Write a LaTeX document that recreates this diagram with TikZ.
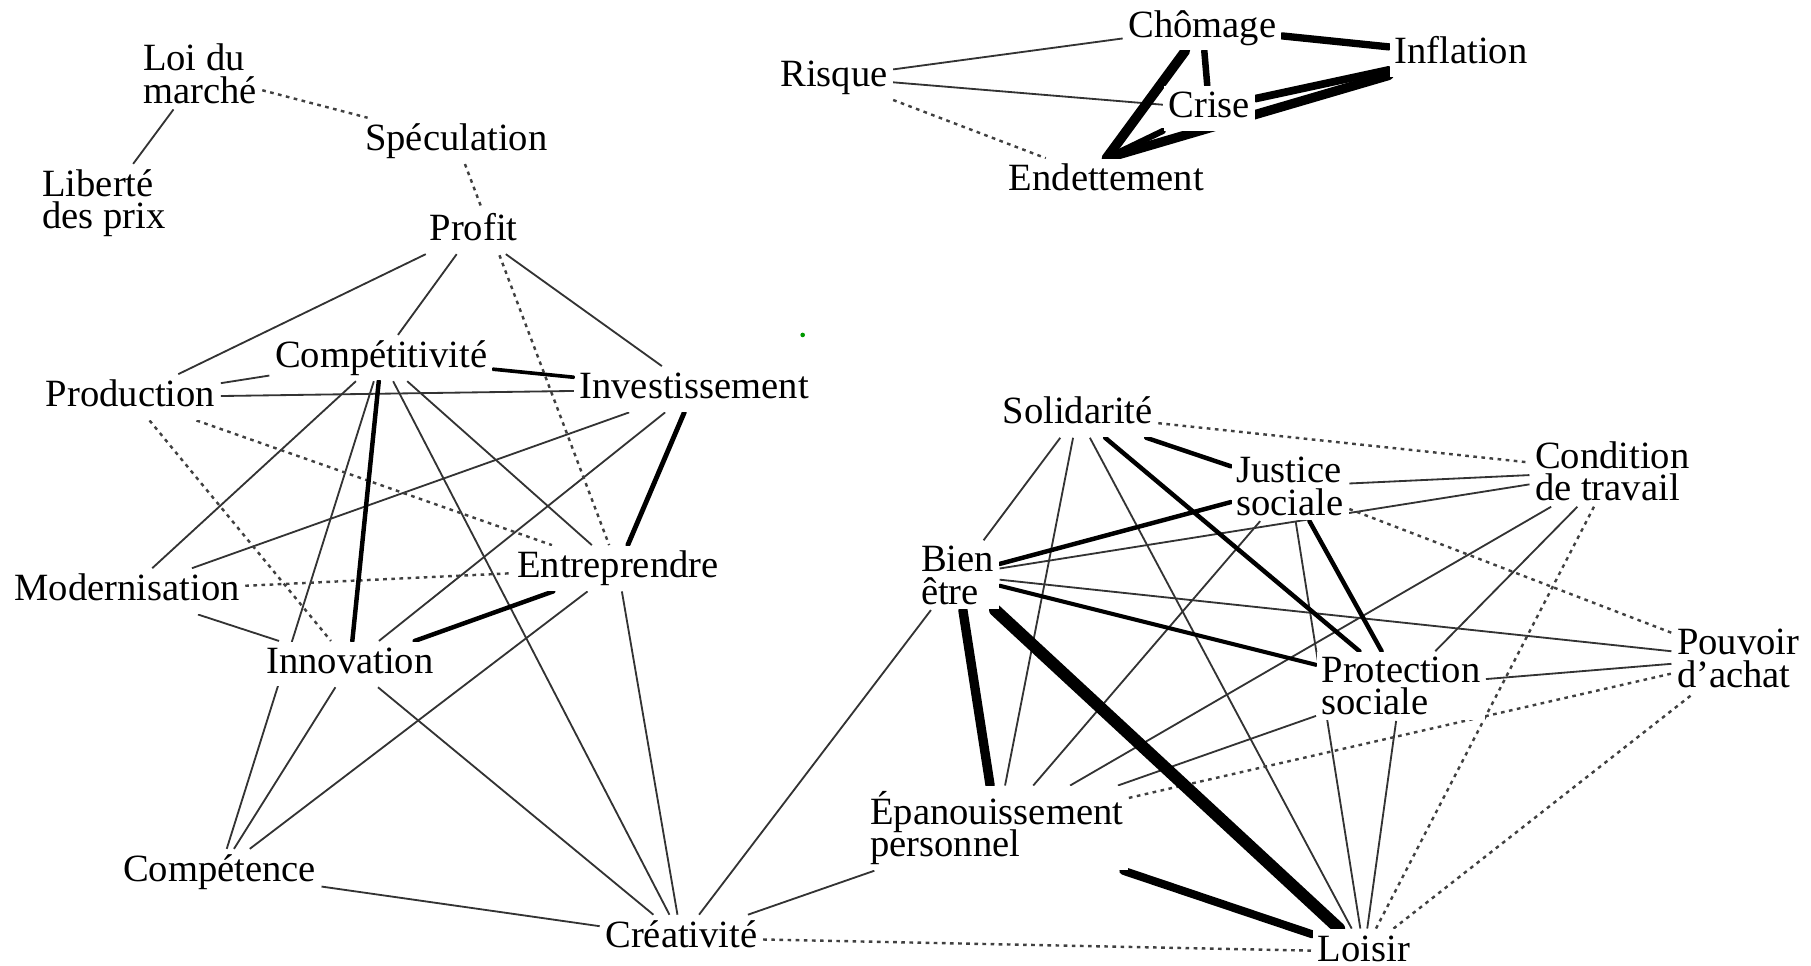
\documentclass[tikz,border=0pt]{standalone}
\usepackage{fontspec}
\setmainfont{Liberation Serif}
\pgfdeclarelayer{edges}
\pgfsetlayers{edges,main}
\newcommand\lblfont{\fontsize{9.5}{8}\selectfont}
\begin{document}
\lineskiplimit=-20pt
\begin{tikzpicture}[x=0.01cm,y=-0.01cm,
  lbl/.style={font=\lblfont, fill=white, inner sep=1.2pt, text height=6.6pt, text depth=2pt},
  lbl2/.style={font=\lblfont, fill=white, inner sep=1.2pt, align=left},
  thin/.style={draw=black!80, line width=0.45pt},
  dots/.style={draw=black!75, line width=0.6pt, dash pattern=on 0.9pt off 1.1pt},
  strong/.style={draw=black, line width=#1, line cap=round}]
\useasboundingbox (0,0) rectangle (1568,836);
% nodes
\node[lbl2] (loi) at (173,64) {Loi du\\marché};
\node[lbl2] (lib) at (90,176) {Liberté\\des prix};
\node[lbl] (spe) at (395,122) {Spéculation};
\node[lbl] (pro) at (410,200) {Profit};
\node[lbl] (cpt) at (330,310) {Compétitivité};
\node[lbl] (prd) at (113,344) {Production};
\node[lbl] (inv) at (601,337) {Investissement};
\node[lbl] (mod) at (110,512) {Modernisation};
\node[lbl] (ent) at (535,492) {Entreprendre};
\node[lbl] (ino) at (303,575) {Innovation};
\node[lbl] (cpc) at (190,755) {Compétence};
\node[lbl] (cre) at (590,812) {Créativité};
\node[lbl] (ris) at (722,67) {Risque};
\node[lbl] (cho) at (1041,24) {Chômage};
\node[lbl] (inf) at (1265,47) {Inflation};
\node[lbl] (cri) at (1047,94) {Crise};
\node[lbl] (end) at (958,157) {Endettement};
\node[lbl] (sol) at (933,359) {Solidarité};
\node[lbl2] (jus) at (1117,421) {Justice\\sociale};
\node[lbl2] (con) at (1396,408) {Condition\\de travail};
\node[lbl2] (bie) at (829,498) {Bien\\être};
\node[lbl2] (pou) at (1505,570) {Pouvoir\\d'achat};
\node[lbl2] (prt) at (1213,594) {Protection\\sociale};
\node[lbl2] (epa) at (863,717) {Épanouissement\\personnel};
\node[lbl] (loz) at (1181,824) {Loisir};
\fill[green!60!black] (695,290) circle (2);
\begin{pgfonlayer}{edges}
% thin
\foreach \a/\b in {loi/lib,pro/prd,pro/cpt,pro/inv,prd/cpt,prd/inv,cpt/mod,cpt/cpc,cpt/cre,cpt/ent,
  inv/mod,inv/ino,mod/ino,ino/cpc,ino/cre,cpc/ent,cpc/cre,ent/cre,cre/bie,cre/epa,ris/cho,ris/cri,
  sol/bie,sol/epa,sol/loz,jus/con,jus/epa,jus/loz,bie/con,bie/pou,con/epa,con/prt,prt/pou,prt/epa,prt/loz}
  \draw[thin] (\a) -- (\b);
% dotted
\foreach \a/\b in {loi/spe,spe/ent,prd/ino,prd/ent,mod/ent,cre/loz,ris/end,sol/con,jus/pou,con/loz,epa/pou,loz/pou}
  \draw[dots] (\a) -- (\b);
% strong
\foreach \a/\b/\w in {cpt/inv/0.9pt,cpt/ino/1.1pt,inv/ent/1.2pt,ino/ent/1.1pt,cho/inf/1.8pt,cho/cri/1.6pt,
  cri/inf/1.9pt,sol/jus/1.1pt,sol/prt/1.1pt,jus/bie/1.1pt,jus/prt/1.1pt,
  bie/prt/1pt,bie/epa/2.3pt,bie/loz/3pt,epa/loz/2pt}
  \draw[strong=\w] (\a) -- (\b);
\draw[strong=2.4pt] (cho) -- (end.north);
\draw[strong=1.5pt] (cri) -- (end.north);
\draw[strong=2.3pt] (end.north) -- (inf);
\end{pgfonlayer}
\end{tikzpicture}
\end{document}
